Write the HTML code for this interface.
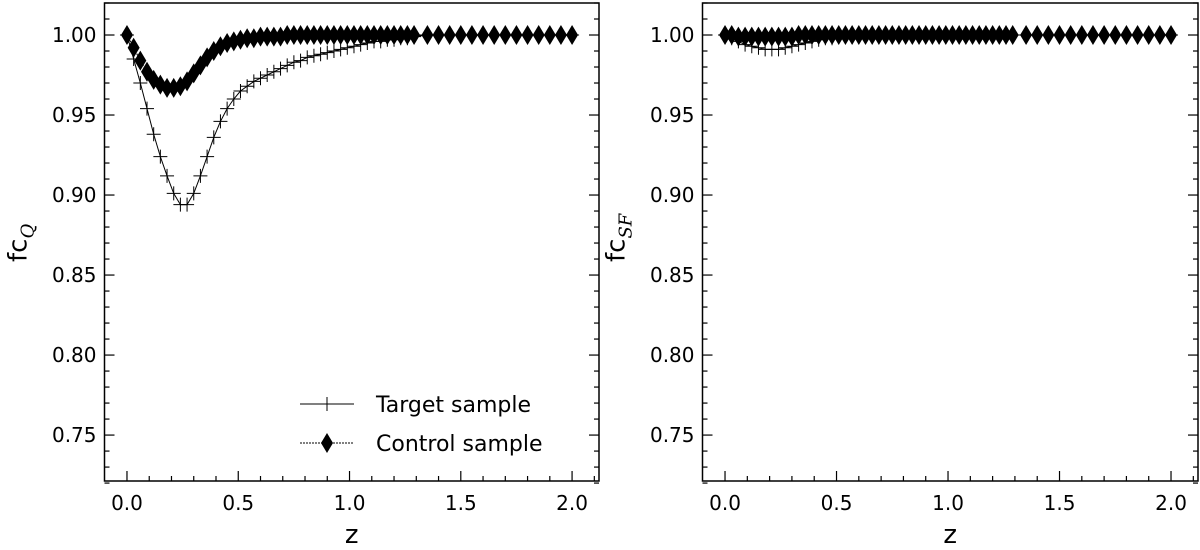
<!DOCTYPE html>
<html><head><meta charset="utf-8"><style>
body{margin:0;background:#fff;}
svg{display:block;font-family:"DejaVu Sans","Liberation Sans",sans-serif;}
</style></head><body>
<svg id="fig" width="1200" height="550" viewBox="0 0 1200 550" xmlns="http://www.w3.org/2000/svg"></svg>
<script>
const zGrid=[0,0.03,0.06,0.09,0.12,0.15,0.18,0.21,0.24,0.27,0.30,0.33,0.36,0.39,0.42,0.45,0.48,0.51,0.54,0.57,0.60,0.63,0.66,0.69,0.72,0.75,0.78,0.81,0.84,0.87,0.90,0.93,0.96,0.99,1.02,1.05,1.08,1.11,1.14,1.17,1.20,1.23,1.26,1.29,1.35,1.40,1.45,1.50,1.55,1.60,1.65,1.70,1.75,1.80,1.85,1.90,1.95,2.00];
const targetQ=[1.0,0.985,0.97,0.954,0.938,0.924,0.912,0.901,0.894,0.894,0.901,0.912,0.924,0.936,0.946,0.954,0.96,0.965,0.968,0.971,0.973,0.975,0.977,0.979,0.981,0.983,0.984,0.986,0.987,0.988,0.989,0.99,0.991,0.992,0.993,0.994,0.995,0.996,0.996,0.997,0.997,0.998,0.998,0.999,1.0,1.0,1.0,1.0,1.0,1.0,1.0,1.0,1.0,1.0,1.0,1.0,1.0,1.0];
const controlQ=[1.0,0.992,0.984,0.977,0.972,0.969,0.967,0.967,0.968,0.971,0.976,0.981,0.986,0.99,0.993,0.995,0.996,0.997,0.998,0.998,0.999,0.999,0.999,0.999,1.0,1.0,1.0,1.0,1.0,1.0,1.0,1.0,1.0,1.0,1.0,1.0,1.0,1.0,1.0,1.0,1.0,1.0,1.0,1.0,1.0,1.0,1.0,1.0,1.0,1.0,1.0,1.0,1.0,1.0,1.0,1.0,1.0,1.0];
const targetSF=[1.0,0.998,0.996,0.994,0.993,0.992,0.991,0.991,0.991,0.992,0.993,0.994,0.995,0.996,0.997,0.998,0.998,0.999,0.999,0.999,1.0,1.0,1.0,1.0,1.0,1.0,1.0,1.0,1.0,1.0,1.0,1.0,1.0,1.0,1.0,1.0,1.0,1.0,1.0,1.0,1.0,1.0,1.0,1.0,1.0,1.0,1.0,1.0,1.0,1.0,1.0,1.0,1.0,1.0,1.0,1.0,1.0,1.0];
const controlSF=[1.0,1.0,0.999,0.999,0.999,0.999,0.999,0.999,0.999,0.999,0.999,1.0,1.0,1.0,1.0,1.0,1.0,1.0,1.0,1.0,1.0,1.0,1.0,1.0,1.0,1.0,1.0,1.0,1.0,1.0,1.0,1.0,1.0,1.0,1.0,1.0,1.0,1.0,1.0,1.0,1.0,1.0,1.0,1.0,1.0,1.0,1.0,1.0,1.0,1.0,1.0,1.0,1.0,1.0,1.0,1.0,1.0,1.0];
const xTicks=["0.0","0.5","1.0","1.5","2.0"];
const yTicks=["0.75","0.80","0.85","0.90","0.95","1.00"];

const NS="http://www.w3.org/2000/svg";
const svg=document.getElementById('fig');
function mk(tag,attrs,parent){const e=document.createElementNS(NS,tag);for(const k in attrs)e.setAttribute(k,attrs[k]);(parent||svg).appendChild(e);return e;}

function panel(L,R,T,B,tgt,ctl,ylabSub,key,legend){
  const xmin=-0.101,xmax=2.121,ymin=0.7213,ymax=1.02;
  const sx=v=>L+(v-xmin)/(xmax-xmin)*(R-L);
  const sy=v=>B-(v-ymin)/(ymax-ymin)*(B-T);
  const g=mk('g',{});
  
  
  // ticks
  for(let i=0;i<=21;i++){const v=i*0.1;const x=sx(v);const major=i%5===0;
    mk('line',{x1:x,x2:x,y1:B,y2:B-(major?10:5),stroke:'#000','stroke-width':1.2},g);}
  for(let i=0;i<=30;i++){const v=0.72+i*0.01;if(v>ymax)break;const y=sy(v);const major=Math.round(v*100)%5===0;
    const len=major?10:5;
    mk('line',{x1:L,x2:L+len,y1:y,y2:y,stroke:'#000','stroke-width':1.2},g);
    mk('line',{x1:R,x2:R-len,y1:y,y2:y,stroke:'#000','stroke-width':1.2},g);}
  xTicks.forEach(t=>{const e=mk('text',{x:sx(parseFloat(t)),y:B+29,'text-anchor':'middle','font-size':20},g);e.textContent=t;
    });
  yTicks.forEach(t=>{const e=mk('text',{x:L-8,y:sy(parseFloat(t))+7,'text-anchor':'end','font-size':20},g);e.textContent=t;
    });
  const xl=mk('text',{x:(L+R)/2,y:B+62,'text-anchor':'middle','font-size':26},g);xl.textContent='z';
  
  const yl=mk('text',{x:0,y:0,'font-size':26,transform:`translate(${L-78},${(T+B)/2+20}) rotate(-90)`},g);
  yl.textContent='fc';const ts=mk('tspan',{'font-size':18,'font-style':'italic',dy:7,'font-family':'"DejaVu Serif",serif'},yl);ts.textContent=ylabSub;
  
  // target line + crosses
  const tp=zGrid.map((z,i)=>sx(z)+','+sy(tgt[i])).join(' ');
  const tl=mk('polyline',{points:tp,fill:'none',stroke:'#000','stroke-width':1},g);
  
  zGrid.forEach((z,i)=>{const x=sx(z),y=sy(tgt[i]);
    const p=mk('path',{d:`M${x-7},${y}H${x+7}M${x},${y-7}V${y+7}`,stroke:'#000','stroke-width':1},g);
    });
  const cp=zGrid.map((z,i)=>sx(z)+','+sy(ctl[i])).join(' ');
  const cl=mk('polyline',{points:cp,fill:'none',stroke:'#000','stroke-width':1,'stroke-dasharray':'2,1'},g);
  
  zGrid.forEach((z,i)=>{const x=sx(z),y=sy(ctl[i]);
    const p=mk('path',{d:`M${x},${y-10}L${x+6},${y}L${x},${y+10}L${x-6},${y}Z`,fill:'#000'},g);
    });
  mk('rect',{x:L,y:T,width:R-L,height:B-T,fill:'none',stroke:'#000','stroke-width':1.5},g);
  if(legend){
    const lg=mk('g',{},g);
    mk('line',{x1:300,x2:354,y1:404,y2:404,stroke:'#000','stroke-width':1},lg);
    mk('path',{d:'M327,397V411',stroke:'#000','stroke-width':1},lg);
    const t1=mk('text',{x:376,y:412,'font-size':22},lg);t1.textContent='Target sample';
    mk('line',{x1:300,x2:354,y1:443,y2:443,stroke:'#000','stroke-width':1,'stroke-dasharray':'2,1'},lg);
    mk('path',{d:'M327,433L333,443L327,453L321,443Z',fill:'#000'},lg);
    const t2=mk('text',{x:376,y:451,'font-size':22},lg);t2.textContent='Control sample';
  }
}
panel(104.5,599,3,481,targetQ,controlQ,'Q','left',true);
panel(702.5,1198,3,481,targetSF,controlSF,'SF','right',false);
</script>
</body></html>
